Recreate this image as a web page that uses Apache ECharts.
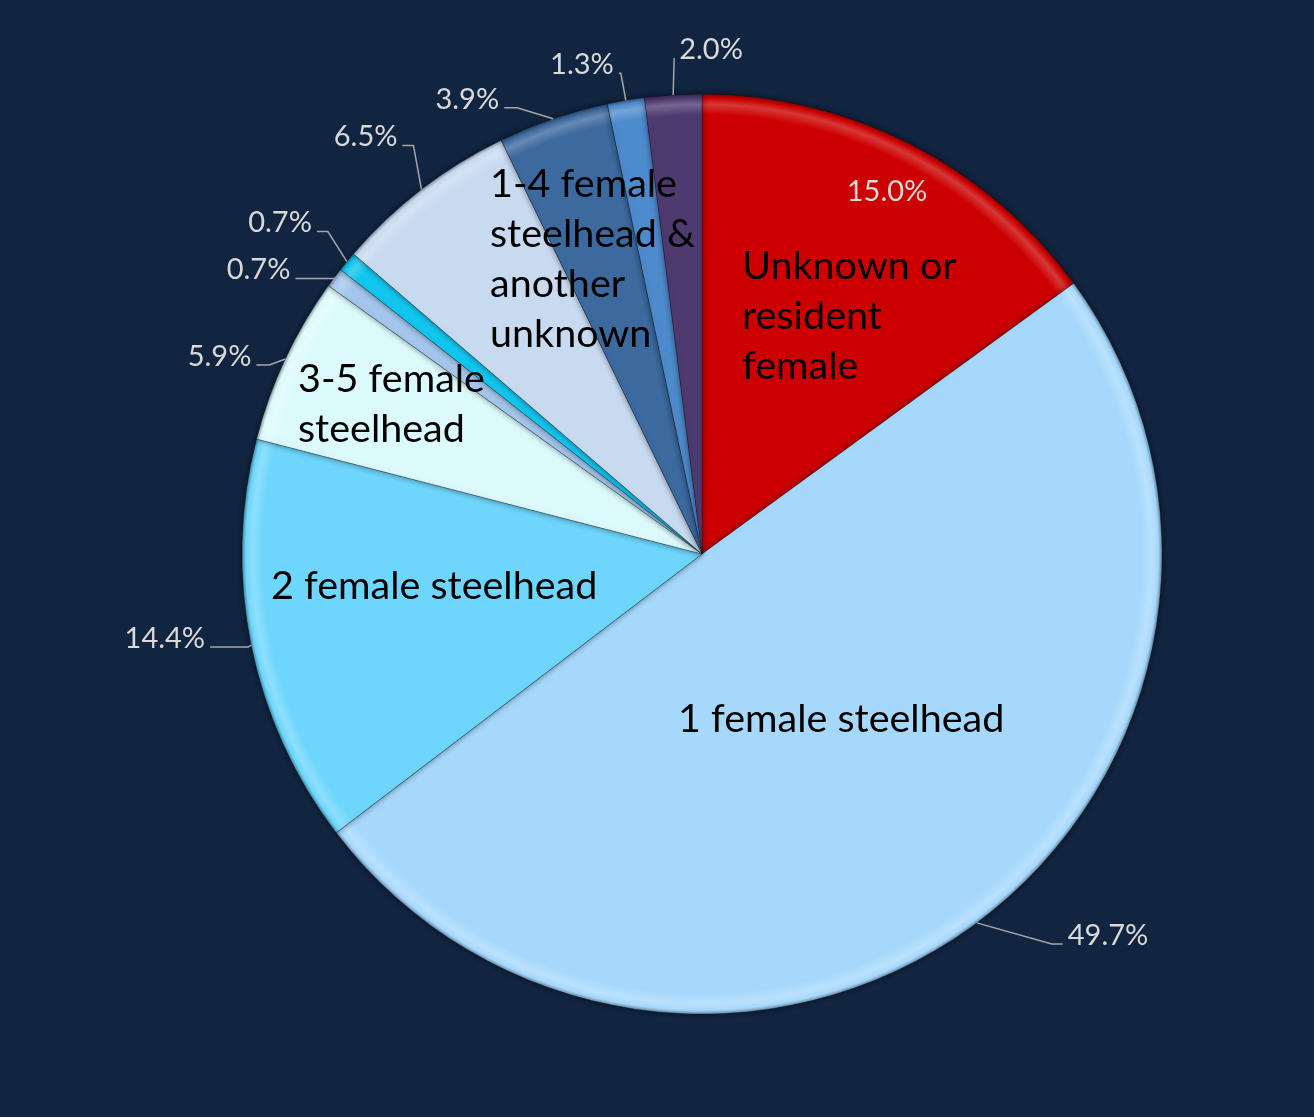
<!DOCTYPE html>
<html>
<head>
<meta charset="utf-8">
<script src="https://cdn.jsdelivr.net/npm/echarts@6/dist/echarts.min.js"></script>
<style>
  html, body { margin: 0; padding: 0; background: #112440; }
  #chart { width: 1314px; height: 1117px; }
</style>
</head>
<body>
<div id="chart"></div>
<script>
// Slice names (blank where a slice carries no name label) and their shares in percent
const categories = [
  'Unknown or resident female',
  '1 female steelhead',
  '2 female steelhead',
  '3-5 female steelhead',
  '',
  '',
  '',
  '1-4 female steelhead & another unknown',
  '',
  ''
];
const shares = [15.0, 49.7, 14.4, 5.9, 0.7, 0.7, 6.5, 3.9, 1.3, 2.0];
const sliceColors = ['#cc0000', '#a6d8fc', '#6ed6fc', '#dcfafc', '#a4c6ec', '#12c6ee', '#c8daf0', '#3c699e', '#4e8bcc', '#4f3a70'];

// Pie geometry
const CX = 702, CY = 554, R = 460;

// Mid angle of each slice, degrees clockwise from 12 o'clock
const total = shares.reduce((s, v) => s + v, 0);
const midAngles = [];
let acc = 0;
shares.forEach(v => { midAngles.push((acc + v / 2) / total * 360); acc += v; });

function shade(hex, k) {
  const n = parseInt(hex.slice(1), 16);
  let r = n >> 16, g = (n >> 8) & 255, b = n & 255;
  const f = c => Math.round(k >= 0 ? c + (255 - c) * k : c * (1 + k));
  return 'rgb(' + f(r) + ',' + f(g) + ',' + f(b) + ')';
}
// Rim highlight for the bevelled look
function bevel(c) {
  return {
    type: 'radial', x: CX, y: CY, r: R, global: true,
    colorStops: [
      { offset: 0, color: c },
      { offset: 0.955, color: c },
      { offset: 0.978, color: shade(c, 0.22) },
      { offset: 0.992, color: c },
      { offset: 1, color: shade(c, -0.35) }
    ]
  };
}

// Word-wrap a name into lines no wider than maxW at the label font
const NAME_FONT = '39.5px Lato';
function wrapName(text, maxW) {
  if (!maxW) return text;
  const words = text.split(' ');
  const lines = [];
  let cur = '';
  words.forEach(w => {
    const trial = cur ? cur + ' ' + w : w;
    if (cur && echarts.format.getTextRect(trial, NAME_FONT).width > maxW) {
      lines.push(cur);
      cur = w;
    } else {
      cur = trial;
    }
  });
  if (cur) lines.push(cur);
  return lines.join('\n');
}

// Name label placement: left edge / cap top, offset from the pie centre; wrap width
const nameSpots = {
  0: { dx: 40, dy: -304, w: 230 },
  1: { dx: -24, dy: 149 },
  2: { dx: -431, dy: 16 },
  3: { dx: -404, dy: -191, w: 215 },
  7: { dx: -212, dy: -386, w: 215 }
};
// Percent leader lines: elbow offset from the slice edge, horizontal tail, text side
const leaders = {
  1: [75, 21, 11, 1],
  2: [-3, 2, -38, -1],
  3: [-16, 6, -13, -1],
  4: [0, 1, -39, -1],
  5: [-19, -30, -11, -1],
  6: [-8, -44, -11, -1],
  7: [-36, -11, -13, -1],
  8: [-5, -27, -2, -1],
  9: [1, -37, 0, 1]
};

const chart = echarts.init(document.getElementById('chart'));
chart.setOption({
  backgroundColor: '#112440',
  animation: false,
  series: [
    {
      type: 'pie',
      center: [CX, CY],
      radius: R,
      startAngle: 90,
      clockwise: true,
      avoidLabelOverlap: false,
      emphasis: { disabled: true },
      itemStyle: {
        borderColor: 'rgba(0,0,0,0.25)',
        borderWidth: 1,
        shadowBlur: 6,
        shadowColor: 'rgba(0,0,0,0.45)'
      },
      label: {
        show: true,
        position: 'inside',
        formatter: p => {
          const s = nameSpots[p.dataIndex];
          return s ? wrapName(p.name, s.w) : '';
        },
        color: '#000000',
        fontFamily: 'Lato',
        fontSize: 39.5,
        lineHeight: 50
      },
      labelLine: { show: false },
      labelLayout: function (p) {
        const s = nameSpots[p.dataIndex];
        if (!s) return {};
        return { x: CX + s.dx, y: CY + s.dy - 9, align: 'left', verticalAlign: 'top' };
      },
      data: categories.map((name, i) => ({
        name: name,
        value: shares[i],
        itemStyle: { color: bevel(sliceColors[i]) }
      }))
    },
    {
      type: 'pie',
      center: [CX, CY],
      radius: R,
      startAngle: 90,
      clockwise: true,
      silent: true,
      avoidLabelOverlap: false,
      z: 3,
      itemStyle: { color: 'rgba(0,0,0,0)', borderWidth: 0 },
      label: {
        show: true,
        position: 'outside',
        formatter: p => p.value.toFixed(1) + '%',
        color: '#d9d9d9',
        fontFamily: 'Lato',
        fontSize: 29
      },
      labelLine: { show: true, length: 15, length2: 10, lineStyle: { color: '#a6a6a6', width: 1.5 } },
      labelLayout: function (p) {
        const i = p.dataIndex;
        const a = midAngles[i] * Math.PI / 180;
        if (i === 0) {
          const f = 0.887;
          return { x: CX + f * R * Math.sin(a), y: CY - f * R * Math.cos(a) + 1, align: 'center', verticalAlign: 'middle' };
        }
        const ex = CX + R * Math.sin(a), ey = CY - R * Math.cos(a);
        const L = leaders[i];
        const bx = ex + L[0], by = ey + L[1], tx = bx + L[2];
        return {
          x: tx + L[3] * 5,
          y: by + 6,
          align: L[3] > 0 ? 'left' : 'right',
          verticalAlign: 'bottom',
          labelLinePoints: [[ex, ey], [bx, by], [tx, by]]
        };
      },
      data: shares.map((v, i) => {
        const item = { name: categories[i], value: v };
        if (i === 0) item.labelLine = { show: false };
        return item;
      })
    }
  ]
});
</script>
</body>
</html>
